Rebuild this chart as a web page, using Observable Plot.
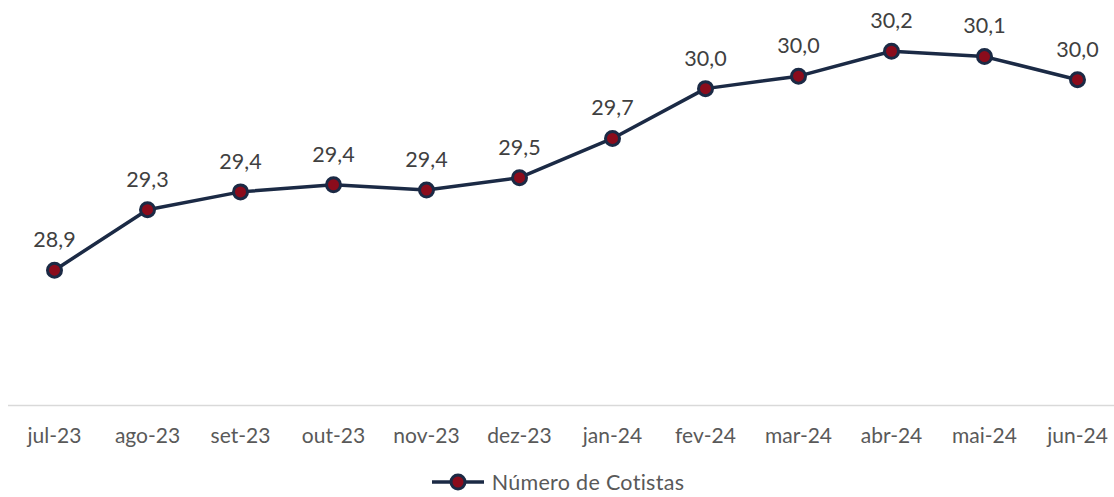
<!DOCTYPE html>
<html><head><meta charset="utf-8">
<script src="https://cdn.jsdelivr.net/npm/d3@7"></script>
<script src="https://cdn.jsdelivr.net/npm/@observablehq/plot@0.6"></script>
<style>
body{margin:0;background:#fff;font-family:Lato,sans-serif;}
#legend{display:flex;justify-content:center;align-items:center;height:31px;font-size:21.5px;color:#595959;padding-top:2px;letter-spacing:0.3px;}
#legend svg{margin-right:6px;}
</style></head><body><div id="chart"></div><div id="legend"></div>
<script>
const months = ["jul-23","ago-23","set-23","out-23","nov-23","dez-23","jan-24","fev-24","mar-24","abr-24","mai-24","jun-24"];
const cotistas = [28.94, 29.28, 29.38, 29.42, 29.39, 29.46, 29.68, 29.96, 30.03, 30.17, 30.14, 30.01];
const seriesName = "Número de Cotistas";
const lineColor = "#1b2a45";
const dotColor = "#8b0c1c";

const data = months.map((m, i) => ({month: m, value: cotistas[i]}));
const H = 464;
const baseY = 405;
const fmt = v => v.toFixed(1).replace(".", ",");

const chart = Plot.plot({
  width: 1114, height: H,
  marginLeft: 53, marginRight: 36, marginTop: 9.8, marginBottom: H - baseY,
  x: {type: "point", domain: months, padding: 0, label: null},
  y: {domain: [28.18, 30.4], axis: null},
  style: {fontFamily: "Lato, sans-serif", background: "white", overflow: "visible"},
  marks: [
    Plot.ruleY([28.18], {stroke: "#d9d9d9", strokeWidth: 1.5, insetLeft: -45, insetRight: -36}),
    Plot.axisX({tickSize: 0, tickPadding: 23, fontSize: 21, color: "#595959", label: null}),
    Plot.line(data, {x: "month", y: "value", stroke: lineColor, strokeWidth: 3.5}),
    Plot.dot(data, {x: "month", y: "value", r: 7, fill: dotColor, stroke: lineColor, strokeWidth: 3}),
    Plot.text(data, {x: "month", y: "value", text: d => fmt(d.value), dy: -30, fontSize: 21.5, fill: "#404040"})
  ]
});
document.getElementById("chart").appendChild(chart);

const legend = document.getElementById("legend");
legend.innerHTML = `<svg width="56" height="20"><line x1="2" y1="10" x2="54" y2="10" stroke="${lineColor}" stroke-width="3.5"/><circle cx="28" cy="10" r="7" fill="${dotColor}" stroke="${lineColor}" stroke-width="3"/></svg><span>${seriesName}</span>`;
</script></body></html>
